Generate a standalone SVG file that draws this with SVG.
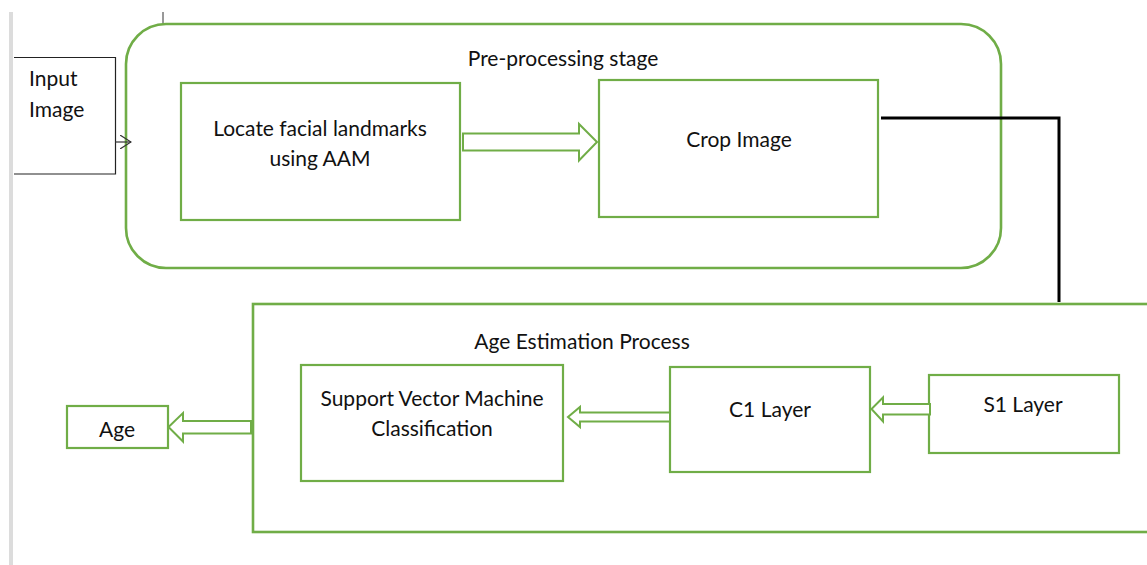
<svg xmlns="http://www.w3.org/2000/svg" width="1147" height="565" viewBox="0 0 1147 565">
<style>
.box{fill:#fff;stroke:#70AD47;stroke-width:2.2}
.blk{fill:#fff;stroke:#70AD47;stroke-width:2}
text{font-family:Lato,"Open Sans","Liberation Sans",sans-serif;font-size:21px;fill:#111;text-anchor:middle}
</style>
<defs>
<marker id="open" viewBox="0 0 12 14" refX="11" refY="7" markerWidth="12" markerHeight="14" markerUnits="userSpaceOnUse" orient="auto">
<path d="M0,0 L11,7 L0,14" fill="none" stroke="#333" stroke-width="1.2"/>
</marker>
</defs>
<rect x="0" y="0" width="1147" height="565" fill="#fff"/>
<rect x="9" y="12" width="4" height="553" fill="#dcdcdc"/>
<line x1="163" y1="12" x2="163" y2="24" stroke="#333" stroke-width="1"/>

<g id="preprocessing">
<rect x="126" y="24" width="875" height="244" rx="40" ry="40" fill="none" stroke="#70AD47" stroke-width="2.6"/>
<text x="563" y="66">Pre-processing stage</text>
</g>

<g id="input-image">
<path d="M14,57.5 H115.5 V174 H14" fill="#fff" stroke="#222" stroke-width="1.2"/>
<text x="29" y="86" style="text-anchor:start">Input</text>
<text x="29" y="117" style="text-anchor:start">Image</text>
</g>

<g id="locate">
<rect class="box" x="181" y="83" width="279" height="137"/>
<text x="320" y="136">Locate facial landmarks</text>
<text x="320" y="166">using AAM</text>
</g>

<g id="crop">
<rect class="box" x="599" y="80" width="279" height="137"/>
<text x="739" y="147">Crop Image</text>
</g>

<g id="age-estimation">
<rect x="253" y="304" width="900" height="228" fill="none" stroke="#70AD47" stroke-width="2.6"/>
<text x="582" y="349">Age Estimation Process</text>
</g>

<g id="svm">
<rect class="box" x="301" y="365" width="262" height="116"/>
<text x="432" y="406">Support Vector Machine</text>
<text x="432" y="436">Classification</text>
</g>

<g id="c1">
<rect class="box" x="670" y="367" width="200" height="105"/>
<text x="770" y="417">C1 Layer</text>
</g>

<g id="s1">
<rect class="box" x="929" y="375" width="190" height="78"/>
<text x="1023" y="412">S1 Layer</text>
</g>

<g id="age">
<rect class="box" x="67" y="406" width="101" height="42"/>
<text x="117" y="437">Age</text>
</g>

<g id="connectors">
<line x1="115" y1="142" x2="131" y2="142" stroke="#333" stroke-width="1.2" marker-end="url(#open)"/>
<path class="blk" d="M463,133.5 H579 V124 L597,142 L579,160.5 V150.5 H463 Z"/>
<path d="M881,118 H1059 V302" fill="none" stroke="#000" stroke-width="3"/>
<path class="blk" d="M670,412.5 H580 V407 L568,417 L580,427 V421.5 H670 Z"/>
<path class="blk" d="M930,404 H883 V397.5 L871.5,409 L883,421.5 V414.5 H930 Z"/>
<path class="blk" d="M251,421 H183 V413 L168.5,427 L183,441.5 V433.5 H251 Z"/>
</g>
</svg>
